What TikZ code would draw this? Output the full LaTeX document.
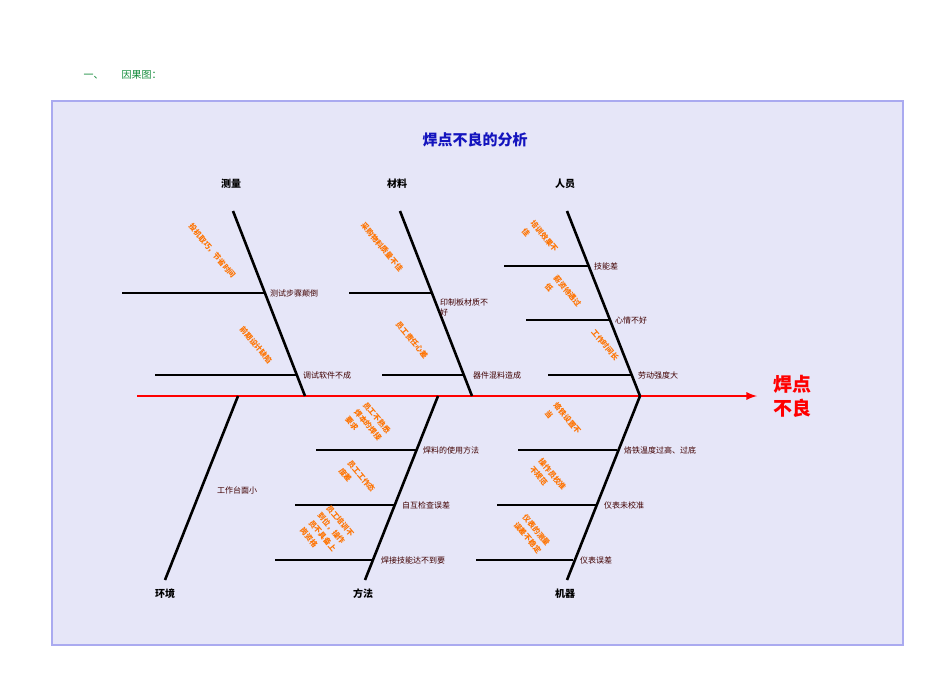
\documentclass[tikz,border=0pt]{standalone}
\usepackage{fontspec}
\setmainfont{Noto Sans CJK SC}
\begin{document}
\begin{tikzpicture}[x=1pt,y=-1pt,
  bone/.style={line width=2.6pt,black},
  sub/.style={line width=2.2pt,black},
  lab/.style={font=\fontsize{8}{10}\selectfont,text=black!75!red,inner sep=1pt},
  cause/.style={font=\fontsize{7.5}{11.5}\selectfont\bfseries,text=orange!90!red,rotate=-50,align=left,inner sep=0pt},
  cat/.style={font=\fontsize{10}{12}\selectfont\bfseries}]
\useasboundingbox (0,0) rectangle (950,672);
\fill[white] (0,0) rectangle (950,672);
\draw[line width=2pt,draw={rgb,255:red,170;green,170;blue,240},fill={rgb,255:red,230;green,230;blue,248}] (52,101) rectangle (903,645);
\node[text={rgb,255:red,20;green,140;blue,60},font=\fontsize{10}{12}\selectfont,anchor=west] (hdr) at (80,75) {一、\hspace{18pt}因果图：};
\node[text={rgb,255:red,20;green,20;blue,190},font=\fontsize{15}{18}\selectfont\bfseries] (title) at (475,140) {焊点不良的分析};
% spine
\coordinate (s0) at (137,396);
\coordinate (s1) at (757,396);
\draw[line width=2.6pt,red,-latex] (s0) -- (s1);
\node[text=red,font=\fontsize{19}{24}\selectfont\bfseries,align=left] (eff) at (792,396) {焊点\\不良};
% upper bones
\coordinate (m0) at (233,211); \coordinate (m1) at (305,396);
\coordinate (c0) at (400,211); \coordinate (c1) at (472,396);
\coordinate (r0) at (567,211); \coordinate (r1) at (640,396);
\draw[bone] (m0)--(m1); \draw[bone] (c0)--(c1); \draw[bone] (r0)--(r1);
\node[cat] (lm) at (231,184) {测量};
\node[cat] (lc) at (397,184) {材料};
\node[cat] (lr) at (565,184) {人员};
% lower bones
\coordinate (e0) at (238,396); \coordinate (e1) at (165,580);
\coordinate (f0) at (438,396); \coordinate (f1) at (365,580);
\coordinate (j0) at (640,396); \coordinate (j1) at (567,580);
\draw[bone] (e0)--(e1); \draw[bone] (f0)--(f1); \draw[bone] (j0)--(j1);
\node[cat] (le) at (165,594) {环境};
\node[cat] (lf) at (363,594) {方法};
\node[cat] (lj) at (565,594) {机器};
% sub branches
\coordinate (a1) at (122,293); \coordinate (a2) at (264,293);
\coordinate (b1) at (155,375); \coordinate (b2) at (297,375);
\coordinate (d1) at (349,293); \coordinate (d2) at (431,293);
\coordinate (g1) at (382,375); \coordinate (g2) at (464,375);
\coordinate (h1) at (504,266); \coordinate (h2) at (588,266);
\coordinate (i1) at (526,320); \coordinate (i2) at (609,320);
\coordinate (k1) at (548,375); \coordinate (k2) at (632,375);
\coordinate (n1) at (316,450); \coordinate (n2) at (416,450);
\coordinate (o1) at (295,505); \coordinate (o2) at (395,505);
\coordinate (p1) at (275,560); \coordinate (p2) at (374,560);
\coordinate (q1) at (518,450); \coordinate (q2) at (617,450);
\coordinate (t1) at (497,505); \coordinate (t2) at (597,505);
\coordinate (u1) at (476,560); \coordinate (u2) at (573,560);
\foreach \A/\B in {a1/a2,b1/b2,d1/d2,g1/g2,h1/h2,i1/i2,k1/k2,n1/n2,o1/o2,p1/p2,q1/q2,t1/t2,u1/u2}
  \draw[sub] (\A)--(\B);
\node[lab,anchor=west] (ta) at ([xshift=5pt]a2) {测试步骤颠倒};
\node[lab,anchor=west] (tb) at ([xshift=5pt]b2) {调试软件不成};
\node[lab,anchor=north west,align=left] (td) at ([xshift=8pt,yshift=-5pt]d2) {印制板材质不\\好};
\node[lab,anchor=west] (tg) at ([xshift=8pt]g2) {器件混料造成};
\node[lab,anchor=west] (th) at ([xshift=5pt]h2) {技能差};
\node[lab,anchor=west] (ti) at ([xshift=5pt]i2) {心情不好};
\node[lab,anchor=west] (tk) at ([xshift=5pt]k2) {劳动强度大};
\node[lab,anchor=west] (tn) at ([xshift=6pt]n2) {焊料的使用方法};
\node[lab,anchor=west] (to) at ([xshift=6pt]o2) {自互检查误差};
\node[lab,anchor=west,fill={rgb,255:red,230;green,230;blue,248}] (tp) at ([xshift=6pt]p2) {焊接技能达不到要};
\node[lab,anchor=west] (tq) at ([xshift=6pt]q2) {烙铁温度过高、过底};
\node[lab,anchor=west] (tt) at ([xshift=6pt]t2) {仪表未校准};
\node[lab,anchor=west] (tu) at ([xshift=6pt]u2) {仪表误差};
\node[lab] (tenv) at (237,490) {工作台面小};
% causes (orange)
\node[cause] (x1) at (212,251) {投机取巧，节省时间};
\node[cause] (x2) at (256,345) {前期设计缺陷};
\node[cause] (x3) at (382,247) {采购物料质量不佳};
\node[cause] (x4) at (412,340) {员工责任心差};
\node[cause] (x5) at (540,240) {培训效果不\\佳};
\node[cause] (x6) at (563,295) {薪资待遇过\\低};
\node[cause] (x7) at (605,345) {工作时间长};
\node[cause] (x8) at (368,425) {员工不熟悉\\焊本的焊接\\要求};
\node[cause] (x9) at (357,480) {员工工作态\\度差};
\node[cause] (x10) at (327,532) {员工培训不\\到位，操作\\员不具备上\\岗资格};
\node[cause] (x11) at (563,422) {烙铁设置不\\当};
\node[cause] (x12) at (548,478) {操作员校准\\不规范};
\node[cause] (x13) at (532,534) {仪表的测量\\误差不稳定};
\end{tikzpicture}
\end{document}
